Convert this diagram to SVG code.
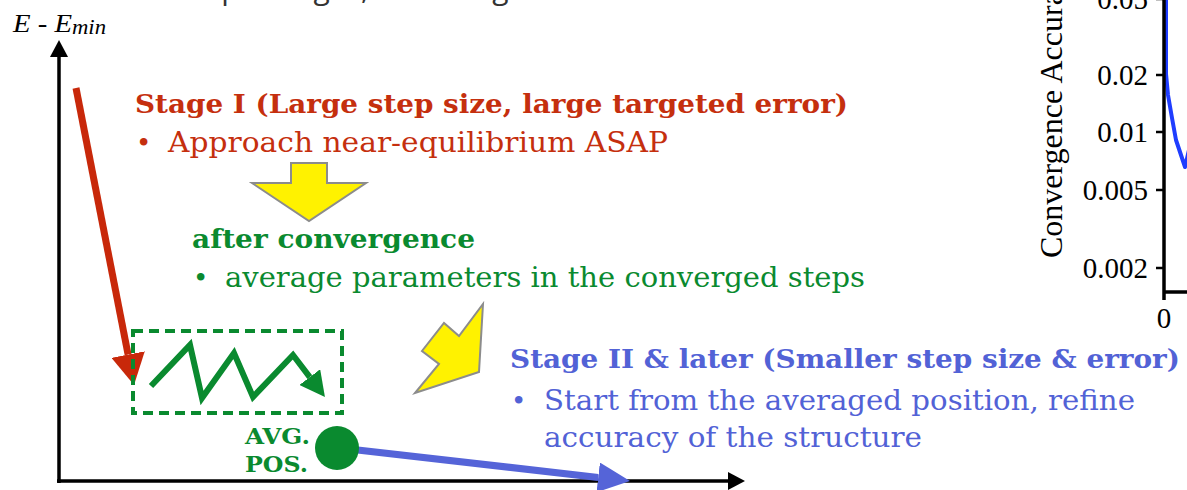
<svg xmlns="http://www.w3.org/2000/svg" width="1187" height="490" viewBox="0 0 1187 490">
<defs>
<style>
.bold{font-family:"DejaVu Serif","Liberation Serif",serif;font-weight:bold;}
.reg{font-family:"DejaVu Serif","Liberation Serif",serif;}
.tms{font-family:"Liberation Serif","Times New Roman",serif;}
.red{fill:#c52f0e;}
.grn{fill:#0a8a2f;}
.blu{fill:#5262d6;}
.yarrow{fill:#fff200;stroke:#8c8c8c;stroke-width:2;stroke-linejoin:miter;}
.axis{stroke:#000;stroke-width:3.5;fill:none;}
.tick{stroke:#000;stroke-width:2.5;}
</style>
<marker id="axisHead" viewBox="0 -9 17 18" markerWidth="17" markerHeight="18" refX="0" refY="0" orient="auto" markerUnits="userSpaceOnUse"><path d="M0,-9 L17,0 L0,9 z" fill="#000"/></marker>
<marker id="redHead" viewBox="0 -17 31 34" markerWidth="31" markerHeight="34" refX="0" refY="0" orient="auto" markerUnits="userSpaceOnUse"><path d="M0,-17 L31,0 L0,17 z" fill="#c8280a"/></marker>
<marker id="grnHead" viewBox="0 -13 25 26" markerWidth="25" markerHeight="26" refX="0" refY="0" orient="auto" markerUnits="userSpaceOnUse"><path d="M0,-13 L25,0 L0,13 z" fill="#0a8a2f"/></marker>
<marker id="bluHead" viewBox="0 -15 32 30" markerWidth="32" markerHeight="30" refX="0" refY="0" orient="auto" markerUnits="userSpaceOnUse"><path d="M0,-15 L32,0 L0,15 z" fill="#5564d8"/></marker>
</defs>

<g id="top-caption">
<text x="150" y="-1" font-family="Open Sans, sans-serif" font-size="30" fill="#333">Multiple stages, each stage is a</text>
</g>

<g id="axes">
<line class="axis" x1="59" y1="483" x2="59" y2="57" marker-end="url(#axisHead)"/>
<line class="axis" x1="57" y1="481" x2="728" y2="481" marker-end="url(#axisHead)"/>
<text class="tms" x="13" y="32" font-size="26" font-style="italic" textLength="59" lengthAdjust="spacingAndGlyphs">E - E</text>
<text class="tms" x="72" y="34" font-size="20" font-style="italic" textLength="34" lengthAdjust="spacingAndGlyphs">min</text>
</g>

<g id="stage1">
<text class="bold red" x="135" y="113" font-size="26" textLength="713" lengthAdjust="spacingAndGlyphs">Stage I (Large step size, large targeted error)</text>
<text class="reg red" x="136" y="152" font-size="26">•</text>
<text class="reg red" x="168" y="152" font-size="27" textLength="500" lengthAdjust="spacingAndGlyphs">Approach near-equilibrium ASAP</text>
</g>

<g id="after-convergence">
<text class="bold grn" x="192" y="248" font-size="26" textLength="283" lengthAdjust="spacingAndGlyphs">after convergence</text>
<text class="reg grn" x="193" y="287" font-size="26">•</text>
<text class="reg grn" x="225" y="287" font-size="27" textLength="640" lengthAdjust="spacingAndGlyphs">average parameters in the converged steps</text>
</g>

<g id="stage2">
<text class="bold blu" x="510" y="368" font-size="26" textLength="670" lengthAdjust="spacingAndGlyphs">Stage II &amp; later (Smaller step size &amp; error)</text>
<text class="reg blu" x="511" y="410" font-size="26">•</text>
<text class="reg blu" x="544" y="410" font-size="27" textLength="591" lengthAdjust="spacingAndGlyphs">Start from the averaged position, refine</text>
<text class="reg blu" x="544" y="447" font-size="27" textLength="378" lengthAdjust="spacingAndGlyphs">accuracy of the structure</text>
</g>

<g id="connectors">
<line x1="76" y1="88" x2="128.1" y2="354.6" stroke="#c8280a" stroke-width="7" marker-end="url(#redHead)"/>
<line x1="340" y1="448" x2="598.2" y2="477.4" stroke="#5564d8" stroke-width="7" marker-end="url(#bluHead)"/>
<polygon class="yarrow" points="291,163 327,163 327,183 366,183 309,221 252,183 291,183"/>
<polygon class="yarrow" points="483,304 479,372 415,393 439,364 422,351 444,323 459,336"/>
</g>

<g id="converged-steps">
<polyline points="151,386 190,345 202,398 234,353 253,397 293,355 309.8,377.1" fill="none" stroke="#0a8a2f" stroke-width="6" stroke-linejoin="miter" marker-end="url(#grnHead)"/>
<rect x="133" y="331" width="209" height="82" fill="none" stroke="#0a8a2f" stroke-width="4" stroke-dasharray="10 6"/>
</g>

<g id="avg-pos">
<circle cx="337" cy="448" r="22" fill="#0a8a2f"/>
<text class="bold grn" x="245" y="444" font-size="22" textLength="65" lengthAdjust="spacingAndGlyphs">AVG.</text>
<text class="bold grn" x="245" y="472" font-size="22" textLength="63" lengthAdjust="spacingAndGlyphs">POS.</text>
</g>

<g id="chart">
<path d="M1166,0 L1166,74 L1168,95 L1172,118 L1176,140 L1185,167 L1189,150" fill="none" stroke="#1f3dff" stroke-width="4" stroke-linejoin="round"/>
<line class="axis" x1="1164" y1="-2" x2="1164" y2="300"/>
<line class="axis" x1="1163" y1="292" x2="1190" y2="292"/>
<line class="tick" x1="1156" y1="-1" x2="1164" y2="-1"/>
<line class="tick" x1="1156" y1="75" x2="1164" y2="75"/>
<line class="tick" x1="1156" y1="132" x2="1164" y2="132"/>
<line class="tick" x1="1156" y1="190" x2="1164" y2="190"/>
<line class="tick" x1="1156" y1="268" x2="1164" y2="268"/>
<g class="tms" font-size="29" text-anchor="end" fill="#000">
<text x="1148" y="9">0.05</text>
<text x="1148" y="85">0.02</text>
<text x="1148" y="142">0.01</text>
<text x="1148" y="200">0.005</text>
<text x="1148" y="278">0.002</text>
</g>
<text class="tms" x="1164" y="328" font-size="29" text-anchor="middle">0</text>
<text class="tms" x="0" y="0" font-size="32" transform="translate(1062,258) rotate(-90)">Convergence Accuracy</text>
</g>
</svg>
